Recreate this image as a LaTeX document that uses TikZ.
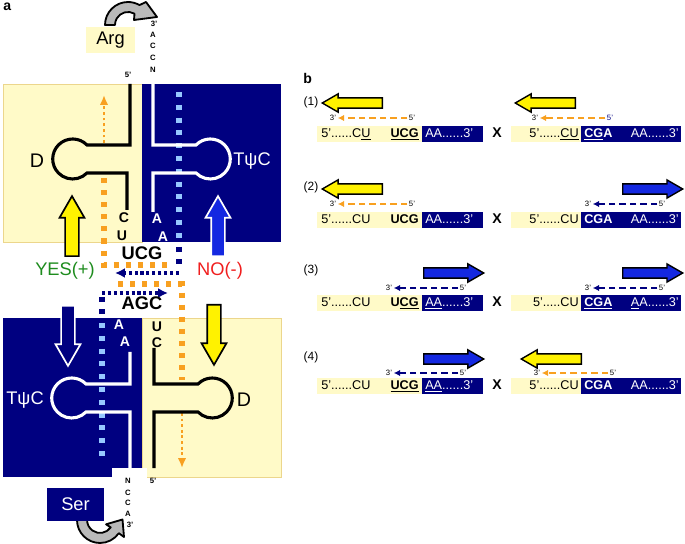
\documentclass[tikz,border=0pt]{standalone}
\usepackage{fontspec}
\setmainfont{Liberation Sans}
\usepackage{tikz}
\usetikzlibrary{arrows.meta, positioning, shapes.arrows}

\definecolor{paleyellow}{RGB}{255,250,200}
\definecolor{edgeyellow}{RGB}{236,214,140}
\definecolor{navy}{RGB}{0,0,128}
\definecolor{lightblue}{RGB}{150,200,255}
\definecolor{dnaorange}{RGB}{248,160,32}
\definecolor{brightblue}{RGB}{20,40,225}
\definecolor{yesgreen}{RGB}{30,140,30}
\definecolor{nored}{RGB}{240,30,30}

\tikzset{
  yellowblock/.style={fill=paleyellow, draw=edgeyellow, line width=0.6pt},
  strand/.style={line width=2.2pt},
  bigarrow/.style={single arrow, line width=1.2pt, inner xsep=0pt, inner ysep=0.15cm,
    anchor=tail, minimum height=1.5cm, single arrow head extend=0.14cm,
    single arrow tip angle=60},
  smallarrow/.style={single arrow, draw=black, line width=1pt, inner xsep=0pt,
    inner ysep=0.11cm, anchor=tail, minimum height=1.5cm,
    single arrow head extend=0.1cm, single arrow tip angle=60},
  orangesq/.style={draw=dnaorange, line width=3.6pt, dash pattern=on 3.6pt off 5pt},
  bluesq/.style={draw=lightblue, line width=3.6pt, dash pattern=on 3.6pt off 5.5pt},
  navysq/.style={draw=navy, line width=3.6pt, dash pattern=on 3.6pt off 5pt},
  orangedot/.style={draw=dnaorange, line width=2pt, dash pattern=on 2pt off 2pt,
    -{Latex[length=7pt,width=6pt]}},
  navydot/.style={draw=navy, line width=2.2pt, dash pattern=on 2.2pt off 2pt,
    -{Latex[length=7pt,width=7pt]}},
  orangedash/.style={draw=dnaorange, line width=1.3pt, dash pattern=on 4.5pt off 3pt,
    -{Latex[length=4.5pt,width=4.5pt]}},
  navydash/.style={draw=navy, line width=1.3pt, dash pattern=on 4.5pt off 3pt,
    -{Latex[length=4.5pt,width=4.5pt]}},
  turnarrow/.style={fill=gray!55, draw=black, line width=1.3pt, line join=round},
  big/.style={font=\fontsize{13}{15}\selectfont, inner sep=1pt},
  bigbold/.style={font=\fontsize{13}{15}\selectfont\bfseries, inner sep=1pt},
  base/.style={font=\fontsize{10}{12}\selectfont\bfseries, inner sep=0.5pt},
  tiny/.style={font=\fontsize{5.5}{6}\selectfont\bfseries, inner sep=0.5pt},
  tinylbl/.style={font=\fontsize{5.5}{6}\selectfont, inner sep=1pt},
  rowlbl/.style={font=\fontsize{8.5}{10}\selectfont, inner sep=0pt},
  seqtxt/.style={font=\fontsize{9}{10}\selectfont, inner sep=0pt},
  seqbold/.style={font=\fontsize{9}{10}\selectfont\bfseries, inner sep=0pt},
}

\begin{document}
\begin{tikzpicture}[x=0.025cm, y=-0.025cm]
\useasboundingbox (0,0) rectangle (685,544);

% panel a
\node[font=\fontsize{10}{12}\selectfont\bfseries, anchor=north west, inner sep=0pt] (lbla) at (3,3) {a};

\draw[yellowblock] (3,84) rectangle (142,242);
\fill[navy] (142,84) rectangle (281,242);
\fill[navy] (3,318) rectangle (142,477);
\draw[yellowblock] (142,318) rectangle (281,477);
\fill[white] (112,468) rectangle (147,479);

% top and bottom turn arrows
\draw[turnarrow] (105,25) arc[start angle=-180, end angle=-60, radius=23]
  -- (146,2) -- (157,17) -- (134,20) -- (134.5,13.7)
  arc[start angle=-60, end angle=-180, radius=13] -- cycle;
\draw[turnarrow] (77,520) arc[start angle=180, end angle=35, radius=23]
  -- (124,537) -- (122.5,519.5) -- (106.1,524.3) -- (110.7,527.4)
  arc[start angle=35, end angle=180, radius=13] -- cycle;

\node[fill=paleyellow, minimum width=1.225cm, minimum height=0.65cm, big] (arg) at (110.5,40) {Arg};
\node[fill=navy, text=white, minimum width=1.425cm, minimum height=0.825cm, big] (ser) at (75.5,504.5) {Ser};

% dotted paths
\coordinate (o1) at (104,178);
\coordinate (o2) at (104,265);
\coordinate (o3) at (170,265);
\coordinate (o4) at (118,284);
\coordinate (o5) at (182,284);
\coordinate (o6) at (182,380);
\draw[orangesq] (o1) -- (o2) -- (o3);
\draw[orangesq] (o4) -- (o5) -- (o6);
\coordinate (ou1) at (104,143);
\coordinate (ou2) at (104,95);
\coordinate (od1) at (182,413);
\coordinate (od2) at (182,468);
\draw[orangedot] (ou1) -- (ou2);
\draw[orangedot] (od1) -- (od2);

\coordinate (b1) at (179,92);
\coordinate (b2) at (179,241);
\coordinate (b3) at (179,247);
\coordinate (b4) at (179,273);
\coordinate (b5) at (115,273);
\draw[bluesq] (b1) -- (b2);
\draw[navysq] (b3) -- (179,269);
\draw[navydot] (b4) -- (b5);
\coordinate (c1) at (102,293);
\coordinate (c2) at (168,293);
\coordinate (c3) at (102,317);
\coordinate (c4) at (102,323);
\coordinate (c5) at (102,462);
\draw[navydot] (c1) -- (c2);
\draw[navysq] (102,297) -- (c3);
\draw[bluesq] (c4) -- (c5);

% strands
\draw[strand] (130,84) -- (130,145) -- (87,145) arc[start angle=-44.4, end angle=-315.6, radius=20]
  -- (127,173) -- (127,210);
\draw[strand, white] (153,84) -- (153,145) -- (196,145) arc[start angle=-135.6, end angle=135.6, radius=20]
  -- (153,173) -- (153,212);
\draw[strand, white] (130,352) -- (130,384) -- (86,384) arc[start angle=-44.4, end angle=-315.6, radius=20]
  -- (130,412) -- (130,475);
\draw[strand] (154,348) -- (154,384) -- (198,384) arc[start angle=-135.6, end angle=135.6, radius=20]
  -- (154,412) -- (154,468);

% block arrows
\node[bigarrow, draw=black, fill=yellow, rotate=90] (yesarr) at (72,257) {};
\node[bigarrow, draw=white, fill=brightblue, rotate=90] (noarr) at (218,257) {};
\node[bigarrow, draw=white, fill=navy, rotate=-90] (tpcarr) at (68,305) {};
\node[bigarrow, draw=black, fill=yellow, rotate=-90] (darr) at (214,304) {};

% labels
\node[tiny] (t3) at (154,24) {3'};
\node[tiny] (tA) at (153,35) {A};
\node[tiny] (tC1) at (153,46) {C};
\node[tiny] (tC2) at (153,58) {C};
\node[tiny] (tN) at (153,70) {N};
\node[tiny] (t5) at (128,75) {5'};
\node[tiny] (bN) at (128,481) {N};
\node[tiny] (bC1) at (128,493) {C};
\node[tiny] (bC2) at (128,503) {C};
\node[tiny] (bA) at (128,514) {A};
\node[tiny] (b3) at (130,525) {3'};
\node[tiny] (b5) at (153,481) {5'};

\node[big, font=\fontsize{14}{16}\selectfont] (dup) at (37,161) {D};
\node[big, text=white] (tpcup) at (252,161) {TψC};
\node[big, text=white] (tpclo) at (25,400) {TψC};
\node[big, font=\fontsize{14}{16}\selectfont] (dlo) at (244,400) {D};

\node[base] (sC) at (124,218) {C};
\node[base] (sU) at (122,236) {U};
\node[base, text=white] (sA1) at (157,219) {A};
\node[base, text=white] (sA2) at (163,237) {A};
\node[base, text=white] (lA1) at (119,325) {A};
\node[base, text=white] (lA2) at (125,342) {A};
\node[base] (lU) at (157,327) {U};
\node[base] (lC) at (157,343) {C};

\node[bigbold] (ucg) at (142,253) {UCG};
\node[bigbold] (agc) at (142,303) {AGC};
\node[big, text=yesgreen] (yes) at (65,271) {YES(+)};
\node[big, text=nored] (no) at (220,271) {NO(-)};

% panel b
\node[font=\fontsize{10}{12}\selectfont\bfseries, anchor=north west, inner sep=0pt] (lblb) at (303,73) {b};

\foreach \r in {134,220,303,386} {
  \fill[paleyellow] (317,\r-8) rectangle (422,\r+8);
  \fill[navy] (422,\r-8) rectangle (483,\r+8);
  \fill[paleyellow] (511,\r-8) rectangle (581,\r+8);
  \fill[navy] (581,\r-8) rectangle (681,\r+8);
  \node[seqbold, anchor=base, font=\fontsize{10}{12}\selectfont\bfseries] at (497,\r+4) {X};
}

% row 1
\node[rowlbl] (r1) at (311,102) {(1)};
\node[smallarrow, fill=yellow, rotate=180] (r1a) at (383,103) {};
\node[smallarrow, fill=yellow, rotate=180] (r1b) at (576,103) {};
\node[tinylbl] (r1l3) at (333,118) {3'};
\node[tinylbl] (r1l5) at (412,118) {5'};
\draw[orangedash] (r1l5) -- (r1l3);
\node[tinylbl] (r1r3) at (535,118) {3'};
\node[tinylbl, text=navy] (r1r5) at (610,118) {5'};
\draw[orangedash] (r1r5) -- (r1r3);
\node[seqtxt, anchor=base west] (r1s1) at (321,137.5) {5'......C\underline{U}};
\node[seqbold, anchor=base east] (r1s2) at (419,137.5) {\underline{UCG}};
\node[seqtxt, anchor=base west, text=white] (r1s3) at (425,137.5) {AA......3'};
\node[seqtxt, anchor=base east] (r1s4) at (579,137.5) {5'......\underline{CU}};
\node[seqbold, anchor=base west, text=white] (r1s5) at (584,137.5) {\underline{CG}A};
\node[seqtxt, anchor=base east, text=white] (r1s6) at (679,137.5) {AA......3'};

% row 2
\node[rowlbl] (r2) at (311,187) {(2)};
\node[smallarrow, fill=yellow, rotate=180] (r2a) at (383,189) {};
\node[smallarrow, fill=brightblue] (r2b) at (622,189) {};
\node[tinylbl] (r2l3) at (333,204) {3'};
\node[tinylbl] (r2l5) at (412,204) {5'};
\draw[orangedash] (r2l5) -- (r2l3);
\node[tinylbl] (r2r3) at (588,204) {3'};
\node[tinylbl] (r2r5) at (662,204) {5'};
\draw[navydash] (r2r5) -- (r2r3);
\node[seqtxt, anchor=base west] (r2s1) at (321,223.5) {5'......CU};
\node[seqbold, anchor=base east] (r2s2) at (419,223.5) {UCG};
\node[seqtxt, anchor=base west, text=white] (r2s3) at (425,223.5) {AA......3'};
\node[seqtxt, anchor=base east] (r2s4) at (579,223.5) {5'......CU};
\node[seqbold, anchor=base west, text=white] (r2s5) at (584,223.5) {CGA};
\node[seqtxt, anchor=base east, text=white] (r2s6) at (679,223.5) {AA......3'};

% row 3
\node[rowlbl] (r3) at (311,270) {(3)};
\node[smallarrow, fill=brightblue] (r3a) at (423,273) {};
\node[smallarrow, fill=brightblue] (r3b) at (622,273) {};
\node[tinylbl] (r3l3) at (389,288) {3'};
\node[tinylbl] (r3l5) at (463,288) {5'};
\draw[navydash] (r3l5) -- (r3l3);
\node[tinylbl] (r3r3) at (588,288) {3'};
\node[tinylbl] (r3r5) at (662,288) {5'};
\draw[navydash] (r3r5) -- (r3r3);
\node[seqtxt, anchor=base west] (r3s1) at (321,306.5) {5'......CU};
\node[seqbold, anchor=base east] (r3s2) at (419,306.5) {U\underline{CG}};
\node[seqtxt, anchor=base west, text=white] (r3s3) at (425,306.5) {\underline{AA}......3'};
\node[seqtxt, anchor=base east] (r3s4) at (579,306.5) {5'.....CU};
\node[seqbold, anchor=base west, text=white] (r3s5) at (584,306.5) {\underline{CGA}};
\node[seqtxt, anchor=base east, text=white] (r3s6) at (679,306.5) {\underline{A}A......3'};

% row 4
\node[rowlbl] (r4) at (311,357) {(4)};
\node[smallarrow, fill=brightblue] (r4a) at (423,359) {};
\node[smallarrow, fill=yellow, rotate=180] (r4b) at (582,359) {};
\node[tinylbl] (r4l3) at (389,373) {3'};
\node[tinylbl] (r4l5) at (463,373) {5'};
\draw[navydash] (r4l5) -- (r4l3);
\node[tinylbl] (r4r3) at (537,373) {3'};
\node[tinylbl] (r4r5) at (613,373) {5'};
\draw[orangedash] (r4r5) -- (r4r3);
\node[seqtxt, anchor=base west] (r4s1) at (321,389.5) {5'......CU};
\node[seqbold, anchor=base east] (r4s2) at (419,389.5) {\underline{UCG}};
\node[seqtxt, anchor=base west, text=white] (r4s3) at (425,389.5) {\underline{AA}......3'};
\node[seqtxt, anchor=base east] (r4s4) at (579,389.5) {5'......CU};
\node[seqbold, anchor=base west, text=white] (r4s5) at (584,389.5) {CGA};
\node[seqtxt, anchor=base east, text=white] (r4s6) at (679,389.5) {AA......3'};
\end{tikzpicture}
\end{document}
